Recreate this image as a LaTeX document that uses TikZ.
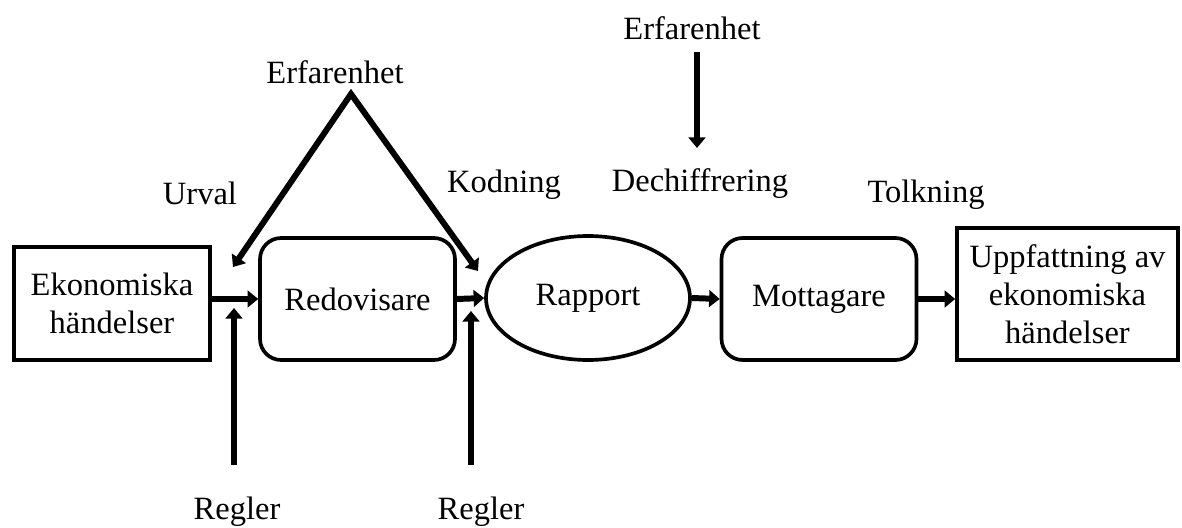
\documentclass[tikz,border=0pt]{standalone}
\usepackage{fontspec}
\setmainfont{Liberation Serif}
\usetikzlibrary{shapes.geometric,arrows.meta}

\begin{document}
\begin{tikzpicture}[
    x=0.02cm, y=-0.02cm,
    >={Triangle[length=6pt,width=9.5pt]},
    flow/.style={->, line width=3.4pt, miter limit=20},
    box/.style={draw, line width=2.1pt, align=center, inner sep=0pt},
    rbox/.style={box, rounded corners=12pt},
    lbl/.style={inner sep=0pt},
    font=\rmfamily\fontsize{18.5}{21.5}\selectfont
]
\useasboundingbox (0,0) rectangle (1182,527);

% boxar i flödet
\node[box, minimum width=3.92cm, minimum height=2.26cm] (ekon) at (112,303.5) {Ekonomiska\\händelser};
\node[rbox, minimum width=3.9cm, minimum height=2.44cm] (redo) at (357.5,299) {Redovisare};
\node[box, ellipse, minimum width=4.08cm, minimum height=2.48cm] (rapp) at (588,298) {Rapport};
\node[rbox, minimum width=3.9cm, minimum height=2.44cm] (mott) at (819,299) {Mottagare};
\node[box, minimum width=4.42cm, minimum height=2.64cm] (uppf) at (1067.5,294) {Uppfattning av\\ekonomiska\\händelser};

\draw[flow] (ekon.east |- redo.west) -- (redo.west);
\draw[flow] (redo.east) -- (rapp.west);
\draw[flow] (rapp.east) -- (mott.west);
\draw[flow] (mott.east) -- (uppf.west |- mott.east);

% erfarenhet
\node[lbl] (erf1) at (335,72) {Erfarenhet};
\coordinate (topp) at (351,94);
\coordinate (urvalpil) at (233,267);
\coordinate (kodpil) at (478,271);
\draw[flow, <->] (urvalpil) -- (topp) -- (kodpil);

\node[lbl] (erf2) at (692,28) {Erfarenhet};
\coordinate (dech1) at (697,52);
\coordinate (dech2) at (697,148);
\draw[flow] (dech1) -- (dech2);

% regler
\coordinate (reg1a) at (234,465);
\coordinate (reg1b) at (234,308);
\coordinate (reg2a) at (471,465);
\coordinate (reg2b) at (471,311);
\draw[flow] (reg1a) -- (reg1b);
\draw[flow] (reg2a) -- (reg2b);
\node[lbl] (regl1) at (237,512) {Regler};
\node[lbl] (regl2) at (481,512) {Regler};

% etiketter
\node[lbl] (urval) at (200,193) {Urval};
\node[lbl] (kodn) at (504,185) {Kodning};
\node[lbl] (dech) at (700,184) {Dechiffrering};
\node[lbl] (tolk) at (926,195) {Tolkning};
\end{tikzpicture}
\end{document}
